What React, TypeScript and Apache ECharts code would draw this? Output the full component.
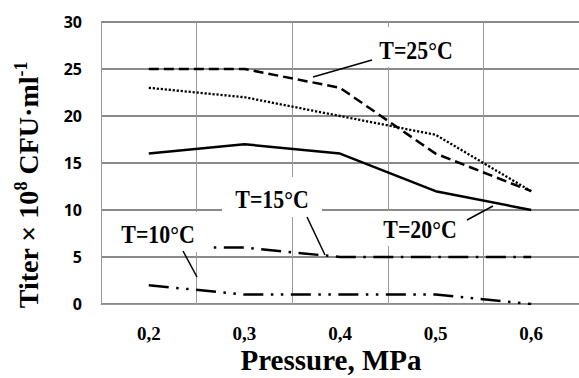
import React, { useEffect, useRef } from "react";
import * as echarts from "echarts";

const categories = ["0,2", "0,3", "0,4", "0,5", "0,6"];
const t25Values = [25, 25, 23, 16, 12];
const dottedValues = [23, 22, 20, 18, 12];
const t20Values = [16, 17, 16, 12, 10];
const t15Values = [6, 6, 5, 5, 5];
const t10Values = [2, 1, 1, 1, 0];
const yTicks = { min: 0, max: 30, interval: 5 };

const serif = "'Liberation Serif', 'Times New Roman', serif";
const sans = "'Open Sans', 'Liberation Sans', sans-serif";

const labelText = (text: string, x: number, y: number) => ({
  type: "text",
  x,
  y,
  z: 20,
  scaleX: 0.95,
  scaleY: 1.08,
  style: {
    text,
    fontFamily: serif,
    fontWeight: "bold",
    fontSize: 23,
    fill: "#000",
    align: "center",
    verticalAlign: "middle",
  },
});

const whiteBox = (x: number, y: number, width: number, height: number) => ({
  type: "rect",
  z: 15,
  shape: { x, y, width, height },
  style: { fill: "#fff" },
});

const leader = (x1: number, y1: number, x2: number, y2: number) => ({
  type: "line",
  z: 20,
  shape: { x1, y1, x2, y2 },
  style: { stroke: "#000", lineWidth: 1.5 },
});

export default function App() {
  const ref = useRef<HTMLDivElement>(null);
  useEffect(() => {
    if (!ref.current) return;
    const chart = echarts.init(ref.current, null, { renderer: "svg" });
    const lineSeries = (name: string, data: number[], type: any, width: number) => ({
      name,
      type: "line",
      data,
      symbol: "none",
      z: 5,
      lineStyle: { color: "#000", width, type, cap: "butt" },
    });
    chart.setOption({
      animation: false,
      backgroundColor: "#fff",
      grid: { left: 101, top: 22, width: 490, height: 282, containLabel: false },
      xAxis: {
        type: "category",
        data: categories,
        boundaryGap: true,
        axisTick: { show: false },
        axisLine: { show: true, lineStyle: { color: "#9a9a9a", width: 1 } },
        splitLine: { show: true, lineStyle: { color: "#9a9a9a", width: 1 } },
        axisLabel: {
          margin: 20,
          fontFamily: serif,
          fontWeight: "bold",
          fontSize: 19,
          color: "#000",
        },
      },
      yAxis: {
        type: "value",
        min: yTicks.min,
        max: yTicks.max,
        interval: yTicks.interval,
        axisLine: { show: true, lineStyle: { color: "#9a9a9a", width: 1 } },
        axisTick: { show: false },
        splitLine: { show: true, lineStyle: { color: "#8a8a8a", width: 2 } },
        axisLabel: {
          margin: 19,
          fontFamily: sans,
          fontWeight: "bold",
          fontSize: 16,
          color: "#000",
        },
      },
      series: [
        lineSeries("T=25°C", t25Values, [10, 5], 2.5),
        lineSeries("dotted", dottedValues, [2.2, 1.8], 2.3),
        lineSeries("T=20°C", t20Values, "solid", 2.5),
        lineSeries("T=15°C", t15Values, [20, 7.5, 2.5, 7.5], 2.5),
        lineSeries("T=10°C", t10Values, [20, 7.5, 2.5, 7.5, 2.5, 7.5], 2.5),
      ],
      graphic: [
        whiteBox(374, 27, 84, 40),
        whiteBox(370, 211, 100, 35),
        whiteBox(222, 177, 100, 40),
        whiteBox(112, 212, 100, 40),
        labelText("T=25°C", 416, 51),
        labelText("T=20°C", 420, 230),
        labelText("T=15°C", 272, 200),
        labelText("T=10°C", 158, 235),
        leader(372, 60, 313, 77),
        leader(467, 220, 493, 206),
        leader(307, 217, 325, 255),
        leader(183, 251, 197, 277),
        {
          type: "text",
          x: 331,
          y: 360,
          z: 20,
          style: {
            text: "Pressure, MPa",
            fontFamily: serif,
            fontWeight: "bold",
            fontSize: 29,
            lineHeight: 28,
            fill: "#000",
            align: "center",
            verticalAlign: "middle",
          },
        },
        {
          type: "text",
          x: 28,
          y: 185,
          z: 20,
          rotation: Math.PI / 2,
          style: {
            text: "{a|Titer × 10}{s|8}{a| CFU·ml}{s|-1}",
            align: "center",
            verticalAlign: "middle",
            rich: {
              a: {
                fontFamily: serif,
                fontWeight: "bold",
                fontSize: 28,
                lineHeight: 32,
                fill: "#000",
                verticalAlign: "middle",
              },
              s: {
                fontFamily: serif,
                fontWeight: "bold",
                fontSize: 18,
                lineHeight: 32,
                fill: "#000",
                verticalAlign: "top",
              },
            },
          },
        },
      ],
    });
    return () => chart.dispose();
  }, []);
  return (
    <div
      ref={ref}
      style={{ position: "absolute", left: 0, top: 0, width: 579, height: 378, background: "#fff" }}
    />
  );
}
